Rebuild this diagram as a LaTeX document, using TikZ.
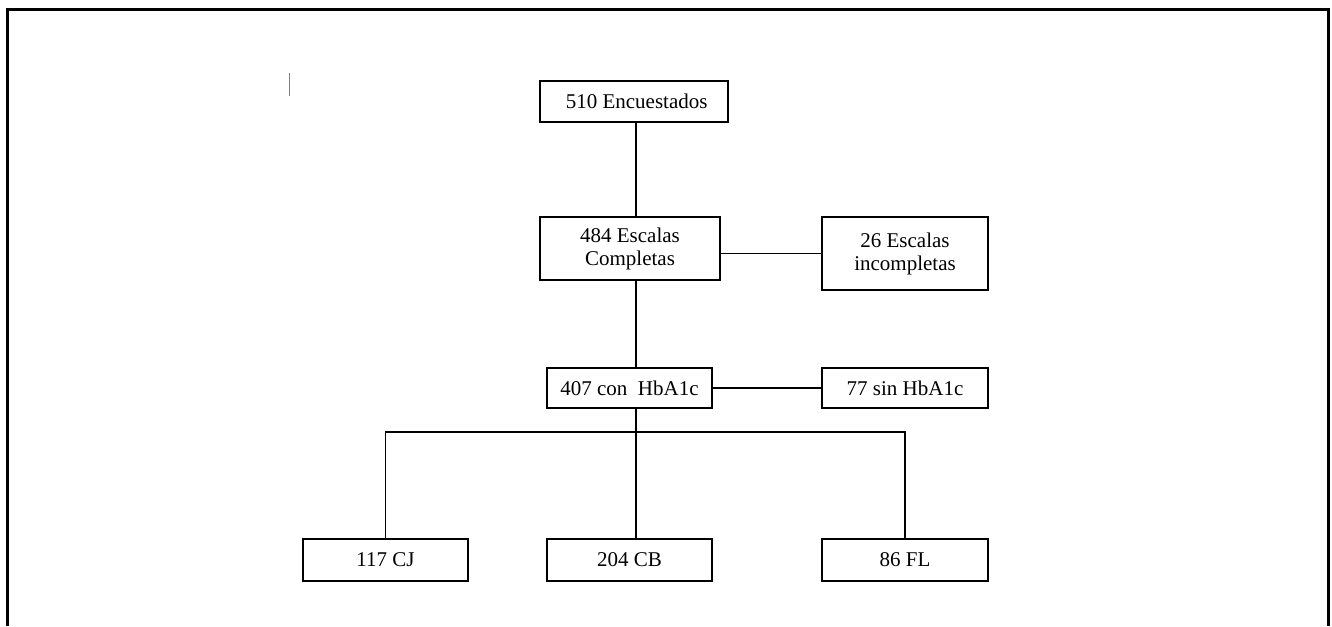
\documentclass[tikz,border=0pt]{standalone}
\usepackage{fontspec}
\setmainfont{Liberation Serif}
\usetikzlibrary{calc}

\begin{document}
\begin{tikzpicture}[x=0.5pt,y=-0.5pt,
        caja/.style={draw,line width=0.8pt,inner sep=0pt,align=center,font=\fontsize{10.5}{11.5}\selectfont},
        enlace/.style={line width=0.8pt}]
        \useasboundingbox (0,0) rectangle (1332,626);
        % marco
        \draw[line width=1.5pt] (7,626) --(7,10) --(1328,10) --(1328,626);
        \draw[line width=0.3pt,gray] (289,73) --(289,96);
        % cajas
        \node[caja,minimum width=94pt,minimum height=20.5pt] (enc) at(634,101.5){\ 510 Encuestados};
        \node[caja,minimum width=90pt,minimum height=31.5pt] (comp) at(630,248.5){484 Escalas\\Completas};
        \node[caja,minimum width=83pt,minimum height=36.5pt] (incomp) at(905,253.5){26 Escalas\\incompletas};
        \node[caja,minimum width=82.5pt,minimum height=20pt] (con) at(629.5,388){407 con~ HbA1c};
        \node[caja,minimum width=83pt,minimum height=20pt] (sin) at(905,388){77 sin HbA1c};
        \node[caja,minimum width=82.5pt,minimum height=21pt] (cj) at(385.5,560){117 CJ};
        \node[caja,minimum width=82.5pt,minimum height=21pt] (cb) at(629.5,560){204 CB};
        \node[caja,minimum width=83pt,minimum height=21pt] (fl) at(905,560){86 FL};
        \coordinate (tronco) at(636,0);
        \coordinate (bus) at(636,432);
        % enlaces
        \draw[enlace] (tronco |- enc.south) --(tronco |- comp.north);
        \draw[enlace] (tronco |- comp.south) --(tronco |- con.north);
        \draw[enlace] (tronco |- con.south) --(tronco |- cb.north);
        \draw[enlace] (incomp.west -| comp.east) --(incomp.west);
        \draw[enlace] (con.east) --(sin.west);
        \draw[enlace] (cj.north) |- (bus) -| (fl.north);
    \end{tikzpicture}
\end{document}
